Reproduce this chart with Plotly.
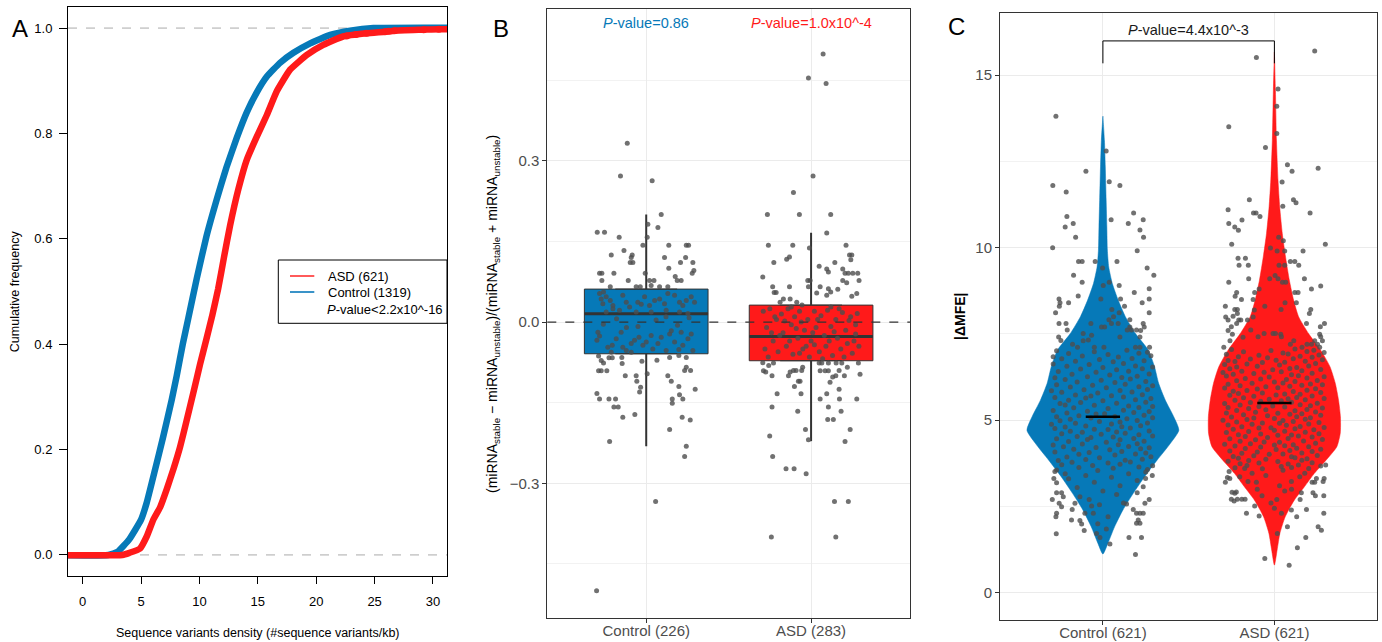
import plotly.graph_objects as go

W, H = 1382, 642
BLUE = "#0679B8"
RED = "#FF1A1A"
PT = "rgba(78,78,78,0.8)"
FONT = "Liberation Sans, Arial, Helvetica, sans-serif"

# ---------------- Panel A: ECDF ----------------
ctrl_ecdf_x = [-5, 2.2, 3.0, 4.0, 5.0, 5.48, 6.2, 6.9, 7.63, 8.05, 8.57, 9.05, 9.77, 10.6, 11.48,
               12.3, 13.2, 14.05, 14.91, 15.77, 16.9, 18.05, 19.48, 21.2, 22.9, 24.9, 40]
ctrl_ecdf_f = [0, 0, 0.006, 0.03, 0.067, 0.099, 0.162, 0.225, 0.295, 0.34, 0.40, 0.45, 0.525, 0.605, 0.675,
               0.735, 0.792, 0.84, 0.878, 0.908, 0.934, 0.953, 0.971, 0.987, 0.995, 1.0, 1.0]
asd_ecdf_x = [-5, 3.4, 4.0, 4.9, 5.48, 6.05, 6.62, 7.2, 7.8, 8.34, 8.9, 9.5, 10.05, 10.6, 11.1, 11.6,
              12.1, 12.62, 13.34, 14.05, 14.91, 15.77, 16.62, 17.76, 19.2, 20.6, 22.3, 24.3, 25.9, 26.7,
              29.2, 30.5, 40]
asd_ecdf_f = [0, 0, 0.004, 0.012, 0.035, 0.067, 0.09, 0.125, 0.165, 0.205, 0.255, 0.31, 0.362, 0.41, 0.455,
              0.505, 0.565, 0.625, 0.695, 0.75, 0.794, 0.835, 0.88, 0.921, 0.949, 0.968, 0.984, 0.99, 0.993,
              0.995, 0.997, 0.998, 0.998]
asd_tail_x = [22.6, 23.4, 24.3, 25.9, 26.2, 26.7, 29.2, 30.5]
asd_tail_f = [0.985, 0.988, 0.99, 0.993, 0.994, 0.995, 0.997, 0.998]
a_xticks = [0, 5, 10, 15, 20, 25, 30]
a_yticks = [0.0, 0.2, 0.4, 0.6, 0.8, 1.0]
a_legend = ["ASD (621)", "Control (1319)"]
a_pvalue = "<i>P</i>-value<2.2x10^-16"

# ---------------- Panel B: box plots ----------------
b_categories = ["Control (226)", "ASD (283)"]
b_q1 = [-0.0589, -0.0719]
b_median = [0.0156, -0.0266]
b_q3 = [0.0614, 0.0316]
b_lower = [-0.231, -0.2215]
b_upper = [0.200, 0.1664]
b_pvalues = ["<i>P</i>-value=0.86", "<i>P</i>-value=1.0x10^-4"]
b_yticks = [-0.3, 0.0, 0.3]
b_yticktext = ["\u22120.3", "0.0", "0.3"]

b_ctrl_points = [
    (-0.115, 0.333), (-0.156, 0.272), (0.036, 0.263), (0.091, 0.2), (0.01, 0.182), (0.071, 0.176),
    (-0.297, 0.167), (-0.253, 0.167), (-0.164, 0.158), (0.006, 0.158), (-0.02, 0.143), (0.137, 0.143),
    (0.243, 0.143), (0.257, 0.143), (-0.135, 0.133), (-0.212, 0.125), (-0.085, 0.125), (-0.091, 0.12),
    (-0.097, 0.111), (-0.081, 0.111), (0.111, 0.12), (0.239, 0.12), (0.208, 0.111), (0.283, 0.111),
    (0.137, 0.1), (0.289, 0.096), (0.279, 0.091), (-0.283, 0.091), (-0.269, 0.091), (-0.196, 0.091),
    (-0.006, 0.091), (-0.269, 0.0775), (-0.109, 0.0775), (0.02, 0.0775), (0.047, 0.0775), (0.176, 0.085),
    (0.188, 0.0775), (0.212, 0.0775), (-0.218, 0.066), (-0.061, 0.066), (-0.036, 0.066), (0.03, 0.068),
    (0.081, 0.066), (0.131, 0.066),
    (-0.283, 0.053), (-0.259, 0.056), (-0.273, 0.043), (-0.243, 0.047), (-0.218, 0.040), (-0.202, 0.031),
    (-0.263, 0.034), (-0.142, 0.050), (-0.121, 0.037), (-0.101, 0.028), (-0.051, 0.037), (-0.030, 0.033),
    (-0.010, 0.047), (0.020, 0.031), (0.051, 0.040), (0.081, 0.043), (0.111, 0.034), (0.131, 0.053),
    (0.172, 0.050), (0.202, 0.037), (0.222, 0.031), (0.243, 0.040), (0.273, 0.047), (0.293, 0.037),
    (-0.162, 0.022), (-0.061, 0.019), (0.030, 0.019), (0.121, 0.022), (0.202, 0.019), (0.253, 0.016),
    (-0.243, 0.019), (-0.202, 0.025),
    (-0.293, -0.019), (-0.283, -0.026), (-0.299, -0.034), (-0.233, -0.047), (-0.206, -0.043),
    (-0.182, -0.031), (-0.152, -0.019), (-0.142, -0.047), (-0.121, -0.053), (-0.091, -0.040),
    (-0.071, -0.034), (-0.044, -0.028), (-0.020, -0.043), (0.000, -0.037), (0.030, -0.025),
    (0.040, -0.050), (0.071, -0.040), (0.091, -0.028), (0.121, -0.053), (0.142, -0.022),
    (0.152, -0.016), (0.172, -0.037), (0.198, -0.051), (0.212, -0.019), (0.222, -0.043),
    (0.253, -0.031), (0.273, -0.022), (0.283, -0.053), (-0.091, -0.056), (-0.212, -0.056),
    (-0.18, 0.006), (0.06, 0.004), (0.19, -0.006), (-0.05, -0.008), (0.26, 0.008), (-0.26, -0.004),
    (0.12, 0.01), (-0.12, -0.01),
    (-0.289, -0.0633), (-0.273, -0.0713), (-0.259, -0.0763), (-0.226, -0.0663), (-0.206, -0.0663),
    (-0.289, -0.0906), (-0.273, -0.0906), (-0.239, -0.0906), (-0.127, -0.1), (-0.061, -0.1),
    (-0.057, -0.11), (-0.034, -0.121), (-0.04, -0.13), (0.006, -0.096), (-0.148, -0.066),
    (-0.146, -0.077), (-0.026, -0.073), (0.065, -0.071), (0.131, -0.1), (0.152, -0.11),
    (0.198, -0.12), (0.202, -0.135), (0.222, -0.143), (0.158, -0.143), (0.158, -0.151),
    (0.297, -0.125), (0.233, -0.09), (0.269, -0.09), (0.243, -0.084), (-0.299, -0.133),
    (-0.283, -0.143), (-0.226, -0.143), (-0.186, -0.143), (-0.196, -0.158), (-0.17, -0.158),
    (-0.142, -0.177), (-0.069, -0.172), (-0.222, -0.222), (0.142, -0.2), (0.218, -0.177),
    (0.267, -0.182), (0.243, -0.231), (0.233, -0.25), (0.057, -0.334), (-0.301, -0.5),
    (0.142, -0.066), (0.243, -0.066), (0.198, -0.062),
]

b_asd_points = [
    (0.073, 0.499), (-0.016, 0.454), (0.091, 0.444), (0.012, 0.272), (-0.107, 0.241), (-0.265, 0.2),
    (-0.071, 0.2), (0.119, 0.2), (0.095, 0.166), (-0.259, 0.143), (-0.111, 0.143), (0.212, 0.143),
    (-0.010, 0.138), (-0.148, 0.117), (-0.131, 0.121), (-0.226, 0.111), (0.233, 0.125), (0.247, 0.125),
    (0.241, 0.116), (0.144, 0.111), (0.049, 0.104), (0.095, 0.099), (0.105, 0.093), (0.192, 0.099),
    (0.206, 0.091), (0.226, 0.091), (0.253, 0.091), (0.283, 0.091), (-0.293, 0.084), (0.291, 0.0775),
    (0.192, 0.0775), (0.216, 0.073), (-0.020, 0.0775), (-0.006, 0.0775), (0.034, 0.054), (0.055, 0.066),
    (0.105, 0.062), (-0.233, 0.066), (-0.131, 0.066), (-0.016, 0.066), (-0.224, 0.055), (-0.212, 0.055),
    (0.162, 0.061), (0.095, 0.050), (0.119, 0.056), (0.277, 0.053), (0.247, 0.048), (-0.188, 0.037),
    (-0.168, 0.043), (-0.127, 0.043), (-0.087, 0.037), (-0.055, 0.032),
    (-0.29, 0.02), (-0.27, -0.01), (-0.25, 0.025), (-0.23, -0.035), (-0.21, 0.005), (-0.2, -0.055),
    (-0.18, 0.015), (-0.17, -0.02), (-0.15, -0.045), (-0.14, 0.025), (-0.12, -0.005), (-0.11, -0.06),
    (-0.1, 0.01), (-0.08, -0.03), (-0.07, 0.02), (-0.05, -0.05), (-0.04, -0.015), (-0.02, 0.005),
    (-0.01, -0.065), (0.0, -0.035), (0.02, 0.02), (0.03, -0.01), (0.05, -0.055), (0.06, 0.012),
    (0.08, -0.025), (0.09, -0.045), (0.1, 0.022), (0.12, -0.008), (0.13, -0.062), (0.15, 0.005),
    (0.16, -0.03), (0.18, -0.05), (0.19, 0.018), (0.21, -0.015), (0.22, -0.04), (0.24, 0.01),
    (0.25, -0.058), (0.27, -0.022), (0.28, 0.016), (0.29, -0.045), (-0.28, -0.05), (-0.26, -0.065),
    (-0.22, 0.01), (-0.19, -0.025), (-0.16, 0.002), (-0.13, -0.035), (-0.09, -0.012), (-0.06, 0.0),
    (-0.03, -0.045), (0.01, -0.02), (0.04, 0.005), (0.07, -0.068), (0.11, -0.035), (0.14, -0.018),
    (0.17, 0.025), (0.2, -0.065), (0.23, 0.003), (0.26, -0.035), (-0.24, -0.02), (-0.07, -0.058),
    (0.02, -0.042), (0.12, 0.028), (-0.12, 0.028), (0.27, -0.005),
    (-0.293, -0.0757), (-0.289, -0.0906), (-0.275, -0.093), (-0.237, -0.1), (-0.257, -0.0806),
    (-0.228, -0.0763), (-0.206, -0.1334), (-0.237, -0.158), (-0.251, -0.212), (-0.233, -0.25),
    (-0.152, -0.273), (-0.103, -0.273), (-0.030, -0.282), (-0.241, -0.4), (0.150, -0.4),
    (0.142, -0.334), (0.226, -0.334), (-0.034, -0.2), (-0.016, -0.219), (-0.081, -0.166),
    (-0.061, -0.1334), (-0.101, -0.12), (-0.077, -0.11), (-0.067, -0.11), (-0.137, -0.1),
    (-0.127, -0.093), (-0.107, -0.09), (-0.091, -0.09), (-0.057, -0.09), (-0.051, -0.084),
    (0.055, -0.143), (0.095, -0.1334), (0.105, -0.158), (0.101, -0.181), (0.135, -0.181),
    (0.170, -0.125), (0.172, -0.143), (0.182, -0.166), (0.237, -0.2), (0.206, -0.222),
    (0.277, -0.143), (0.115, -0.112), (0.131, -0.102), (0.150, -0.1), (0.170, -0.09),
    (0.202, -0.1), (0.220, -0.084), (0.297, -0.097), (0.287, -0.0763), (0.049, -0.0763),
    (0.065, -0.0763), (0.105, -0.0763), (0.152, -0.0763), (0.186, -0.0763), (0.055, -0.0906),
    (0.085, -0.0906), (0.105, -0.0906),
]

# ---------------- Panel C: violins ----------------
c_categories = ["Control (621)", "ASD (621)"]
c_yticks = [0, 5, 10, 15]
c_ctrl_violin_y = [1.12, 1.43, 1.91, 2.40, 2.88, 3.36, 3.84, 4.33, 4.71, 5.10, 5.58, 6.07, 6.55, 7.03,
                   7.51, 8.0, 8.48, 8.96, 9.44, 9.93, 10.6, 11.37, 12.34, 13.11, 13.81]
c_ctrl_violin_hw = [0, 0.029, 0.068, 0.117, 0.177, 0.243, 0.316, 0.394, 0.443, 0.413, 0.364, 0.325, 0.301,
                    0.265, 0.19, 0.131, 0.089, 0.055, 0.034, 0.026, 0.023, 0.019, 0.014, 0.009, 0]
c_asd_violin_y = [0.80, 1.24, 1.72, 2.20, 2.69, 3.07, 3.46, 3.84, 4.23, 4.62, 5.10, 5.58, 6.07, 6.55,
                  7.03, 7.51, 8.0, 8.48, 9.06, 9.73, 10.41, 11.18, 11.96, 13.11, 14.56, 15.67]
c_asd_violin_hw = [0, 0.016, 0.032, 0.063, 0.117, 0.175, 0.233, 0.301, 0.364, 0.384, 0.385, 0.374, 0.355,
                   0.324, 0.27, 0.199, 0.141, 0.112, 0.087, 0.065, 0.046, 0.031, 0.021, 0.012, 0.006, 0]
c_median = [5.10, 5.50]
c_bracket_y = [15.34, 15.99]
c_pvalue = "<i>P</i>-value=4.4x10^-3"

c_ctrl_points = [
    (-0.274, 13.81), (0.019, 12.80), (-0.099, 12.21), (-0.292, 11.80), (0.037, 11.91), (0.099, 11.80),
    (-0.214, 11.61), (0.179, 11.0), (-0.21, 10.90), (-0.173, 10.70), (-0.22, 10.60), (0.048, 10.81),
    (0.148, 10.70), (0.235, 10.81), (0.216, 10.51), (0.237, 10.30), (-0.159, 10.30), (-0.293, 10.0),
    (0.2, 9.91), (-0.142, 9.60), (-0.121, 9.60), (-0.045, 9.60), (0.082, 9.60), (-0.002, 9.41),
    (0.258, 9.41), (-0.171, 9.20), (0.297, 9.20), (-0.121, 9.0), (0.037, 9.0), (0.002, 8.90),
    (0.095, 8.90), (0.27, 8.81), (0.183, 8.70), (-0.144, 8.60), (-0.256, 8.51), (-0.25, 8.40),
    (-0.254, 8.30), (-0.012, 8.51), (0.103, 8.51), (0.27, 8.51), (-0.2, 8.40), (0.229, 8.40),
    (0.126, 8.30), (-0.276, 8.11), (0.052, 8.21), (0.27, 8.11), (0.095, 8.11),
    (-0.256, 7.80), (-0.215, 7.80), (-0.07, 7.80), (0.035, 7.91), (0.062, 8.0), (0.05, 7.8),
    (0.089, 7.8), (0.157, 7.91), (0.235, 7.8), (0.241, 7.7), (0.22, 7.6), (-0.208, 7.61),
    (-0.258, 7.41), (-0.245, 7.31), (-0.008, 7.7), (0.01, 7.7), (-0.115, 7.51), (-0.066, 7.46),
    (-0.085, 7.32), (-0.115, 7.3), (0.142, 7.61), (0.157, 7.7), (0.167, 7.61), (0.196, 7.61),
    (0.099, 7.41), (0.216, 7.41), (-0.177, 7.2), (-0.148, 7.11), (-0.05, 7.11), (0.006, 7.11),
    (0.216, 7.11), (0.272, 7.11), (0.19, 7.11),
    (-0.27, 7.01), (-0.05, 6.98), (0.14, 7.03), (0.26, 6.97), (-0.2, 6.93), (0.03, 6.90), (0.21, 6.94),
    (-0.12, 6.86), (0.09, 6.83), (0.28, 6.87), (-0.29, 6.84), (-0.24, 6.78), (-0.02, 6.76), (0.17, 6.79),
    (-0.16, 6.71), (0.06, 6.69), (0.24, 6.72), (-0.29, 6.63), (-0.08, 6.61), (0.12, 6.64),
    (-0.21, 6.56), (0.0, 6.53), (0.19, 6.57), (0.29, 6.54), (-0.13, 6.48), (0.08, 6.46), (0.23, 6.49),
    (-0.26, 6.41), (-0.04, 6.39), (0.15, 6.42), (-0.18, 6.33), (0.04, 6.31), (0.27, 6.34),
    (-0.09, 6.26), (0.11, 6.24), (0.2, 6.27), (-0.28, 6.23), (-0.22, 6.18), (-0.01, 6.16), (0.16, 6.19),
    (-0.15, 6.11), (0.07, 6.09), (0.25, 6.12), (-0.27, 6.03), (-0.06, 6.01), (0.13, 6.04), (0.29, 6.0),
    (-0.19, 5.96), (0.02, 5.94), (0.21, 5.97), (-0.11, 5.88), (0.1, 5.86), (0.26, 5.89), (-0.3, 5.85),
    (-0.24, 5.81), (-0.03, 5.79), (0.17, 5.82), (-0.16, 5.73), (0.05, 5.71), (0.23, 5.74), (-0.07, 5.70),
    (-0.28, 5.66), (-0.1, 5.64), (0.12, 5.67), (0.28, 5.63), (-0.2, 5.58), (0.0, 5.56), (0.19, 5.59),
    (-0.13, 5.51), (0.08, 5.49), (0.25, 5.52), (-0.25, 5.48), (-0.05, 5.43), (0.15, 5.41), (-0.22, 5.44),
    (0.29, 5.40), (-0.17, 5.36), (0.03, 5.34), (0.21, 5.37), (-0.29, 5.28), (-0.09, 5.26), (0.12, 5.29),
    (0.27, 5.25), (-0.21, 5.21), (0.01, 5.19), (0.18, 5.22), (-0.04, 5.18), (-0.14, 5.13), (0.07, 5.11),
    (0.24, 5.14), (-0.27, 5.10), (-0.07, 5.06), (0.14, 5.04), (0.29, 5.07), (-0.19, 5.03),
    (-0.25, 4.98), (-0.02, 4.96), (0.2, 4.99), (0.1, 4.95), (-0.16, 4.91), (0.05, 4.89), (0.26, 4.92),
    (-0.3, 4.88), (-0.1, 4.83), (0.11, 4.81), (0.22, 4.84), (-0.22, 4.80), (-0.28, 4.76), (-0.05, 4.74),
    (0.16, 4.77), (0.03, 4.73), (-0.19, 4.68), (0.08, 4.66), (0.27, 4.69), (-0.12, 4.65),
    (-0.24, 4.61), (-0.01, 4.59), (0.13, 4.62), (0.21, 4.58), (-0.15, 4.53), (0.06, 4.51), (0.29, 4.54),
    (-0.07, 4.50), (-0.27, 4.46), (-0.09, 4.44), (0.18, 4.47), (0.1, 4.43), (-0.2, 4.38), (0.02, 4.36),
    (0.24, 4.39), (-0.12, 4.31), (0.09, 4.29), (0.2, 4.32), (-0.29, 4.28), (-0.23, 4.23), (-0.04, 4.21),
    (0.15, 4.24), (0.27, 4.20), (-0.17, 4.16), (0.04, 4.14), (0.22, 4.17), (-0.28, 4.08), (-0.08, 4.06),
    (0.11, 4.09), (0.25, 4.05), (-0.14, 4.01), (0.07, 3.99), (0.19, 4.02), (-0.21, 3.93), (-0.02, 3.91),
    (0.28, 3.94), (-0.1, 3.86), (0.13, 3.84), (0.23, 3.87), (-0.26, 3.83), (-0.18, 3.78), (0.03, 3.76),
    (0.16, 3.79), (-0.24, 3.71), (-0.06, 3.69), (0.1, 3.72), (0.29, 3.68), (-0.14, 3.63), (0.06, 3.61),
    (0.21, 3.64), (-0.27, 3.56), (-0.03, 3.54), (0.26, 3.57),
    (-0.28, 3.51), (-0.286, 3.31), (-0.27, 3.19), (-0.295, 2.70), (-0.27, 2.90), (-0.241, 2.90),
    (-0.231, 2.78), (-0.255, 2.59), (-0.241, 2.49), (-0.27, 2.30), (-0.274, 2.20), (-0.183, 2.11),
    (-0.134, 2.09), (-0.124, 1.99), (-0.109, 1.80), (-0.272, 1.71), (-0.037, 1.72), (-0.017, 1.60),
    (0.041, 1.41), (0.152, 1.60), (0.225, 1.60), (0.19, 1.11), (0.196, 2.30), (0.216, 2.30),
    (0.235, 2.30), (0.196, 2.01), (0.216, 2.01), (0.206, 2.11), (0.245, 2.59), (0.27, 2.70),
    (0.288, 3.40), (0.235, 3.07), (0.249, 3.31), (0.2, 2.90), (0.177, 2.41), (0.138, 2.57),
    (-0.179, 2.41), (-0.163, 2.59), (-0.134, 2.78), (-0.105, 2.30), (-0.056, 2.30), (-0.066, 2.51),
    (-0.1, 3.4), (0.05, 3.35), (0.15, 3.45), (-0.05, 3.2), (0.1, 3.1), (-0.15, 3.05), (0.0, 2.95),
    (0.08, 2.85), (-0.08, 2.7), (0.12, 2.6), (-0.02, 2.55), (0.03, 2.2), (-0.03, 2.0), (0.02, 1.85),
    (0.2, 3.25), (-0.2, 3.3), (0.25, 3.5), (-0.22, 3.45),
]

c_asd_points = [
    (-0.105, 15.51), (0.235, 15.70), (0.021, 14.60), (0.014, 14.10), (-0.266, 13.50), (0.014, 13.31),
    (-0.052, 12.90), (0.076, 12.40), (0.103, 12.21), (0.255, 12.30), (0.045, 11.90), (-0.146, 11.39),
    (0.111, 11.39), (0.126, 11.30), (0.049, 11.20), (-0.27, 11.10), (-0.122, 11.0), (-0.107, 11.0),
    (-0.084, 10.90), (0.208, 11.0), (-0.189, 10.80), (-0.266, 10.70), (-0.231, 10.60), (-0.21, 10.50),
    (0.025, 10.30), (0.052, 10.20), (-0.249, 10.10), (0.297, 10.10), (-0.023, 9.99), (0.016, 9.90),
    (0.06, 9.90), (0.167, 9.90), (-0.212, 9.69), (-0.169, 9.69), (-0.206, 9.49), (-0.152, 9.49),
    (0.027, 9.49), (0.06, 9.49), (0.093, 9.60), (0.119, 9.60), (0.142, 9.49), (-0.15, 9.10),
    (-0.266, 9.0), (0.175, 9.10), (0.004, 9.19), (0.021, 9.10), (-0.027, 9.10), (0.047, 9.0),
    (0.066, 9.0), (0.216, 8.80), (0.27, 8.89), (-0.22, 8.70), (-0.229, 8.59), (-0.115, 8.70),
    (-0.089, 8.80), (0.119, 8.70), (0.138, 8.70), (-0.192, 8.50), (-0.124, 8.50), (-0.286, 8.30),
    (-0.056, 8.30), (0.128, 8.40), (-0.231, 8.21), (-0.216, 8.21), (-0.216, 8.09), (-0.284, 7.99),
    (-0.27, 7.90), (-0.241, 8.01), (-0.251, 7.71), (-0.27, 7.60), (-0.245, 7.49), (-0.124, 7.99),
    (-0.117, 8.19), (-0.208, 7.90), (-0.22, 7.80), (-0.196, 7.90), (-0.157, 7.90), (0.039, 8.21),
    (0.062, 8.40), (0.204, 8.09), (0.212, 8.21), (0.187, 7.80), (0.268, 7.71), (0.292, 7.80),
    (0.264, 7.49), (0.27, 7.42), (0.28, 7.30), (-0.295, 7.11), (-0.259, 7.30), (-0.183, 7.40),
    (-0.138, 7.61), (-0.095, 7.42), (-0.06, 7.51), (-0.008, 7.51), (0.006, 7.51), (0.037, 7.49),
    (0.041, 7.42), (0.113, 7.30), (0.093, 7.20), (0.161, 7.11), (0.19, 7.20), (0.216, 7.20),
    (0.235, 7.30), (0.251, 7.20), (0.264, 7.11),
    (-0.25, 7.05), (-0.02, 7.02), (0.12, 7.06), (0.23, 7.03), (-0.18, 6.98), (0.05, 6.95), (0.19, 6.99),
    (0.29, 6.96), (-0.28, 6.91), (-0.09, 6.88), (0.08, 6.92), (0.26, 6.89), (-0.21, 6.84), (-0.04, 6.81),
    (0.15, 6.85), (0.22, 6.82), (-0.14, 6.77), (0.01, 6.74), (0.11, 6.78), (0.28, 6.75), (-0.27, 6.73),
    (-0.23, 6.70), (-0.07, 6.67), (0.18, 6.71), (0.06, 6.68), (-0.16, 6.63), (0.03, 6.60), (0.24, 6.64),
    (-0.29, 6.61), (-0.1, 6.56), (0.13, 6.53), (0.2, 6.57), (-0.22, 6.54), (-0.26, 6.49), (-0.01, 6.46),
    (0.09, 6.50), (0.27, 6.47), (-0.19, 6.42), (-0.06, 6.39), (0.16, 6.43), (0.04, 6.40), (-0.3, 6.38),
    (-0.12, 6.35), (0.1, 6.32), (0.22, 6.36), (-0.24, 6.33), (-0.28, 6.28), (-0.03, 6.25), (0.14, 6.29),
    (0.29, 6.26), (-0.17, 6.21), (0.07, 6.18), (0.19, 6.22), (-0.08, 6.19), (-0.22, 6.14), (0.0, 6.11),
    (0.25, 6.15), (0.12, 6.12), (-0.13, 6.07), (-0.27, 6.04), (0.05, 6.08), (0.21, 6.05), (0.28, 6.03),
    (-0.2, 6.00), (-0.05, 5.97), (0.16, 6.01), (0.09, 5.98), (-0.29, 5.93), (-0.1, 5.90), (0.02, 5.94),
    (0.24, 5.91), (-0.16, 5.86), (0.11, 5.83), (0.19, 5.87), (-0.24, 5.84), (-0.07, 5.79), (0.06, 5.76),
    (0.27, 5.80), (-0.21, 5.77), (0.15, 5.75), (-0.26, 5.72), (-0.12, 5.69), (0.01, 5.73), (0.22, 5.70),
    (-0.18, 5.65), (0.08, 5.62), (0.13, 5.66), (0.29, 5.63), (-0.03, 5.61), (-0.23, 5.58), (-0.08, 5.55),
    (0.18, 5.59), (0.04, 5.56), (-0.14, 5.51), (-0.29, 5.48), (0.1, 5.52), (0.25, 5.49), (-0.2, 5.44),
    (-0.01, 5.41), (0.15, 5.45), (0.21, 5.42), (-0.09, 5.40), (-0.27, 5.37), (-0.15, 5.34), (0.06, 5.38),
    (0.28, 5.35), (-0.05, 5.30), (0.12, 5.27), (0.19, 5.31), (-0.22, 5.28), (-0.11, 5.23), (0.02, 5.20),
    (0.24, 5.24), (-0.28, 5.21), (0.16, 5.19), (-0.18, 5.16), (-0.04, 5.13), (0.09, 5.17), (0.27, 5.14),
    (-0.25, 5.09), (-0.12, 5.06), (0.13, 5.10), (0.21, 5.07), (0.0, 5.05), (-0.16, 5.02), (0.05, 4.99),
    (0.18, 5.03), (-0.3, 5.00), (-0.22, 4.95), (-0.07, 4.92), (0.11, 4.96), (0.26, 4.93), (0.03, 4.91),
    (-0.13, 4.88), (0.07, 4.85), (0.2, 4.89), (-0.27, 4.86), (-0.19, 4.81), (-0.02, 4.78), (0.15, 4.82),
    (0.29, 4.79), (-0.09, 4.77), (-0.24, 4.74), (0.0, 4.71), (0.12, 4.75), (0.23, 4.72), (-0.15, 4.67),
    (-0.28, 4.64), (0.06, 4.68), (0.18, 4.65), (-0.08, 4.60), (0.1, 4.57), (0.26, 4.61), (-0.21, 4.58),
    (0.02, 4.56), (-0.17, 4.53), (-0.04, 4.50), (0.14, 4.54), (0.22, 4.51), (-0.26, 4.46), (-0.11, 4.43),
    (0.08, 4.47), (0.28, 4.44), (-0.2, 4.39), (0.03, 4.36), (0.17, 4.40), (-0.06, 4.37), (-0.14, 4.32),
    (0.11, 4.29), (0.24, 4.33), (-0.29, 4.30), (0.0, 4.28), (-0.23, 4.25), (-0.08, 4.22), (0.06, 4.26),
    (0.2, 4.23), (-0.17, 4.18), (0.01, 4.15), (0.13, 4.19), (0.27, 4.16), (-0.26, 4.11), (-0.1, 4.08),
    (0.09, 4.12), (0.22, 4.09), (-0.19, 4.04), (-0.03, 4.01), (0.16, 4.05), (0.05, 4.02), (-0.12, 3.97),
    (0.1, 3.94), (0.25, 3.98), (-0.24, 3.95), (-0.21, 3.90), (-0.05, 3.87), (0.12, 3.91), (0.19, 3.88),
    (-0.15, 3.83), (0.02, 3.80), (0.16, 3.84), (-0.27, 3.81), (-0.09, 3.76), (0.08, 3.73), (0.22, 3.77),
    (-0.2, 3.74), (-0.16, 3.69), (0.04, 3.66), (0.14, 3.70), (0.27, 3.67), (-0.23, 3.62), (-0.07, 3.59),
    (0.1, 3.63), (0.2, 3.60),
    (-0.286, 3.20), (-0.274, 3.34), (-0.26, 3.31), (-0.264, 3.51), (-0.247, 2.91), (-0.231, 2.88),
    (-0.222, 2.92), (-0.251, 2.71), (-0.235, 2.66), (-0.216, 2.71), (-0.19, 2.71), (-0.171, 2.71),
    (-0.163, 2.30), (-0.115, 2.51), (-0.089, 2.22), (-0.072, 2.81), (0.014, 2.70), (0.041, 2.30),
    (0.017, 1.72), (-0.056, 0.995), (0.086, 0.80), (0.076, 1.91), (0.134, 1.30), (0.183, 1.60),
    (0.13, 2.20), (0.099, 2.40), (0.187, 2.41), (0.15, 2.70), (0.157, 2.90), (0.225, 2.90),
    (0.239, 2.81), (0.255, 1.91), (0.274, 1.81), (0.288, 2.30), (0.288, 2.81), (0.235, 3.20),
    (0.245, 3.31), (0.22, 3.20), (0.29, 3.31), (0.284, 3.22), (0.299, 3.70), (0.099, 3.22),
    (0.148, 3.36), (0.177, 3.46), (-0.13, 3.46), (-0.154, 3.22), (-0.105, 3.20), (-0.173, 3.60),
    (-0.202, 3.36), (-0.05, 3.4), (0.03, 3.1), (0.06, 2.95), (-0.02, 2.6), (0.0, 2.45), (-0.1, 3.0),
    (0.1, 3.0), (0.05, 3.55),
]


def pxx(x):
    return x / W


def pxy(y):
    return 1 - y / H


fig = go.Figure()

# ---- Panel A traces ----
fig.add_trace(go.Scatter(x=ctrl_ecdf_x, y=ctrl_ecdf_f, mode="lines", xaxis="x", yaxis="y",
                         line=dict(color=BLUE, width=6.5, shape="spline", smoothing=0.4),
                         showlegend=False, hoverinfo="skip"))
fig.add_trace(go.Scatter(x=asd_ecdf_x, y=asd_ecdf_f, mode="lines", xaxis="x", yaxis="y",
                         line=dict(color=RED, width=6.5, shape="spline", smoothing=0.4),
                         showlegend=False, hoverinfo="skip"))
fig.add_trace(go.Scatter(x=asd_tail_x, y=asd_tail_f, mode="markers", xaxis="x", yaxis="y",
                         marker=dict(color=RED, size=7), showlegend=False, hoverinfo="skip"))

# ---- Panel B traces ----
b_colors = [BLUE, RED]
b_half = 0.375
for i in range(2):
    pos = i + 1
    fig.add_trace(go.Box(x=[pos], q1=[b_q1[i]], median=[b_median[i]], q3=[b_q3[i]],
                         lowerfence=[b_q1[i]], upperfence=[b_q3[i]], width=2 * b_half,
                         fillcolor=b_colors[i], line=dict(color="#333333", width=1),
                         xaxis="x2", yaxis="y2", showlegend=False, hoverinfo="skip"))
    fig.add_trace(go.Scatter(x=[pos, pos, None, pos, pos],
                             y=[b_q3[i], b_upper[i], None, b_q1[i], b_lower[i]],
                             mode="lines", line=dict(color="#333333", width=2),
                             xaxis="x2", yaxis="y2", showlegend=False, hoverinfo="skip"))
    fig.add_trace(go.Scatter(x=[pos - b_half, pos + b_half], y=[b_median[i], b_median[i]],
                             mode="lines", line=dict(color="#333333", width=3),
                             xaxis="x2", yaxis="y2", showlegend=False, hoverinfo="skip"))

for i, pts in enumerate([b_ctrl_points, b_asd_points]):
    pos = i + 1
    fig.add_trace(go.Scatter(x=[pos + o for o, v in pts], y=[v for o, v in pts], mode="markers",
                             marker=dict(color=PT, size=5), xaxis="x2", yaxis="y2",
                             showlegend=False, hoverinfo="skip"))

# ---- Panel C traces ----
violins = [(c_ctrl_violin_y, c_ctrl_violin_hw, BLUE), (c_asd_violin_y, c_asd_violin_hw, RED)]
for i, (vy, vhw, col) in enumerate(violins):
    pos = i + 1
    xs = [pos - h for h in vhw] + [pos + h for h in reversed(vhw)]
    ys = list(vy) + list(reversed(vy))
    fig.add_trace(go.Scatter(x=xs, y=ys, mode="lines", fill="toself", fillcolor=col,
                             line=dict(color=col, width=0.5, shape="spline", smoothing=0.6),
                             xaxis="x3", yaxis="y3", showlegend=False, hoverinfo="skip"))

for i, pts in enumerate([c_ctrl_points, c_asd_points]):
    pos = i + 1
    fig.add_trace(go.Scatter(x=[pos + o for o, v in pts], y=[v for o, v in pts], mode="markers",
                             marker=dict(color=PT, size=5), xaxis="x3", yaxis="y3",
                             showlegend=False, hoverinfo="skip"))

c_med_half = 0.1
for i in range(2):
    pos = i + 1
    fig.add_trace(go.Scatter(x=[pos - c_med_half, pos + c_med_half], y=[c_median[i], c_median[i]],
                             mode="lines", line=dict(color="black", width=2.5),
                             xaxis="x3", yaxis="y3", showlegend=False, hoverinfo="skip"))

fig.add_trace(go.Scatter(x=[1, 1, 2, 2], y=[c_bracket_y[0], c_bracket_y[1], c_bracket_y[1], c_bracket_y[0]],
                         mode="lines", line=dict(color="black", width=1),
                         xaxis="x3", yaxis="y3", showlegend=False, hoverinfo="skip"))

# ---- axes ----
tick_a = dict(family=FONT, size=13, color="black")
tick_g = dict(family=FONT, size=15, color="#4D4D4D")

fig.update_layout(
    width=W, height=H, margin=dict(l=0, r=0, t=0, b=0), autosize=False,
    paper_bgcolor="white", plot_bgcolor="white", font=dict(family=FONT),
    xaxis=dict(domain=[pxx(68), pxx(447)], anchor="y", range=[-1.26, 31.2], tickvals=a_xticks,
               ticks="outside", ticklen=7, tickcolor="black", showline=True, mirror=True,
               linecolor="black", linewidth=1, showgrid=False, zeroline=False, tickfont=tick_a,
               ticklabelstandoff=6, automargin=False),
    yaxis=dict(domain=[pxy(576), pxy(7)], anchor="x", range=[-0.04, 1.04], tickvals=a_yticks,
               ticktext=["%.1f" % v for v in a_yticks],
               ticks="outside", ticklen=8, tickcolor="black", showline=True, mirror=True,
               linecolor="black", linewidth=1, showgrid=False, zeroline=False, tickfont=tick_a,
               ticklabelstandoff=4, automargin=False),
    xaxis2=dict(domain=[pxx(547.3), pxx(910)], anchor="y2", range=[0.4, 2.6], tickvals=[1, 2],
                ticktext=b_categories, ticks="outside", ticklen=4, tickcolor="#333333",
                showline=True, mirror=True, linecolor="#333333", linewidth=1,
                showgrid=True, gridcolor="#EBEBEB", gridwidth=1.1, zeroline=False, tickfont=tick_g,
                ticklabelstandoff=-5, automargin=False),
    yaxis2=dict(domain=[pxy(617.7), pxy(9.3)], anchor="x2", range=[-0.550, 0.582], tickvals=b_yticks,
                ticktext=b_yticktext, ticks="outside", ticklen=4, tickcolor="#333333",
                showline=True, mirror=True, linecolor="#333333", linewidth=1,
                showgrid=True, gridcolor="#EBEBEB", gridwidth=1.1, zeroline=False, tickfont=tick_g,
                minor=dict(tickvals=[-0.45, -0.15, 0.15, 0.45], showgrid=True, gridcolor="#F2F2F2",
                           gridwidth=0.8, ticks=""),
                automargin=False),
    xaxis3=dict(domain=[pxx(1000), pxx(1377.3)], anchor="y3", range=[0.4, 2.6], tickvals=[1, 2],
                ticktext=c_categories, ticks="outside", ticklen=4, tickcolor="#333333",
                showline=True, mirror=True, linecolor="#333333", linewidth=1,
                showgrid=True, gridcolor="#EBEBEB", gridwidth=1.1, zeroline=False, tickfont=tick_g,
                ticklabelstandoff=-5, automargin=False),
    yaxis3=dict(domain=[pxy(620), pxy(13.3)], anchor="x3", range=[-0.79, 16.79], tickvals=c_yticks,
                ticks="outside", ticklen=4, tickcolor="#333333",
                showline=True, mirror=True, linecolor="#333333", linewidth=1,
                showgrid=True, gridcolor="#EBEBEB", gridwidth=1.1, zeroline=False, tickfont=tick_g,
                minor=dict(tickvals=[2.5, 7.5, 12.5], showgrid=True, gridcolor="#F2F2F2",
                           gridwidth=0.8, ticks=""),
                automargin=False),
)

# ---- shapes ----
shapes = [
    dict(type="line", xref="x domain", yref="y", x0=0, x1=1, y0=0, y1=0,
         line=dict(color="#AAAAAA", width=1, dash="dash"), layer="below"),
    dict(type="line", xref="x domain", yref="y", x0=0, x1=1, y0=1, y1=1,
         line=dict(color="#AAAAAA", width=1, dash="dash"), layer="below"),
    dict(type="line", xref="x2 domain", yref="y2", x0=0, x1=1, y0=0, y1=0,
         line=dict(color="#333333", width=1.2, dash="dash"), layer="above"),
    # legend box of panel A
    dict(type="rect", xref="paper", yref="paper", x0=pxx(278.3), x1=pxx(447), y0=pxy(323.3), y1=pxy(260),
         line=dict(color="black", width=1), fillcolor="white", layer="above"),
    dict(type="line", xref="paper", yref="paper", x0=pxx(290), x1=pxx(314.3), y0=pxy(276), y1=pxy(276),
         line=dict(color="#FF5A5A", width=2), layer="above"),
    dict(type="line", xref="paper", yref="paper", x0=pxx(290), x1=pxx(314.3), y0=pxy(292), y1=pxy(292),
         line=dict(color="#3A93C8", width=2), layer="above"),
]
fig.update_layout(shapes=shapes)

# ---- annotations ----
ann = []


def text(s, x, y, size, color="black", xanchor="center", angle=0, xref="paper", yref="paper", yanchor="middle"):
    ann.append(dict(text=s, x=x, y=y, xref=xref, yref=yref, showarrow=False, xanchor=xanchor,
                    yanchor=yanchor, textangle=angle, font=dict(family=FONT, size=size, color=color)))


text("A", pxx(20), pxy(28), 24)
text("B", pxx(501), pxy(28), 24)
text("C", pxx(956), pxy(27), 24)
text("Cumulative frequency", pxx(14.7), pxy(291.5), 12.5, angle=-90)
text("Sequence variants density (#sequence variants/kb)", pxx(257.5), pxy(632.5), 12.5)
text(a_legend[0], pxx(326), pxy(276), 13, xanchor="left")
text(a_legend[1], pxx(326), pxy(292), 13, xanchor="left")
text(a_pvalue, pxx(325), pxy(310), 13, xanchor="left")
text("(miRNA<sub>stable</sub> \u2212 miRNA<sub>unstable</sub>)/(miRNA<sub>stable</sub> + miRNA<sub>unstable</sub>)",
     pxx(493), pxy(314), 14, angle=-90)
text(b_pvalues[0], 1, pxy(23.3), 14.5, color=BLUE, xref="x2")
text(b_pvalues[1], 2, pxy(23.3), 14.5, color=RED, xref="x2")
text("<b>|\u0394MFE|</b>", pxx(960), pxy(317), 14, angle=-90)
text(c_pvalue, 1.5, c_bracket_y[1] + 0.02, 14.5, color="#1A1A1A", xref="x3", yref="y3", yanchor="bottom")
fig.update_layout(annotations=ann)

fig.write_html("out.html", config={"displayModeBar": False},
               post_script="document.body.style.margin='0';document.body.style.overflow='hidden';")
